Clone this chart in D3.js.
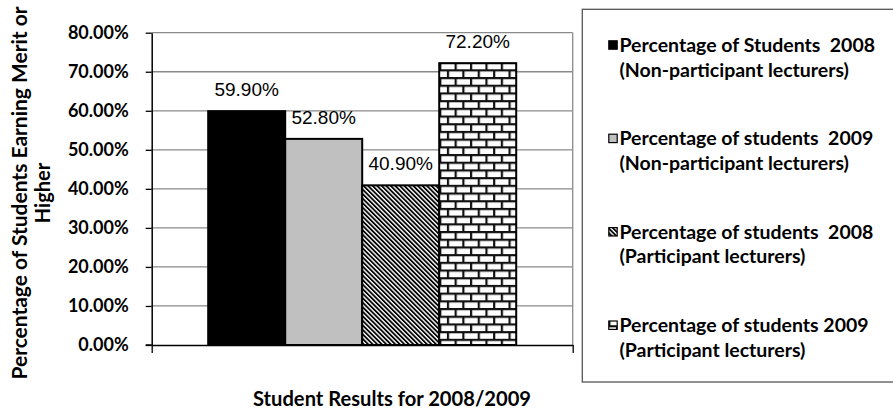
<!DOCTYPE html>
<html>
<head>
<meta charset="utf-8">
<script src="https://cdn.jsdelivr.net/npm/d3@7"></script>
<style>
  body { margin: 0; background: #fff; }
  svg { display: block; }
  text { white-space: pre; }
</style>
</head>
<body>
<script>
// ---- data ----
const category = "Student Results for 2008/2009";
const seriesLine1 = [
  "Percentage of Students  2008",
  "Percentage of students  2009",
  "Percentage of students  2008",
  "Percentage of students 2009"
];
const seriesLine2 = [
  "(Non-participant lecturers)",
  "(Non-participant lecturers)",
  "(Participant lecturers)",
  "(Participant lecturers)"
];
const values = [59.9, 52.8, 40.9, 72.2];
const yTickValues = [0, 10, 20, 30, 40, 50, 60, 70, 80];
const yTitleLines = ["Percentage of Students Earning Merit or", "Higher"];

// ---- layout / style ----
const W = 893, H = 413;
const plot = { left: 151.7, right: 572.7, top: 32.7, bottom: 345 };
const fills = ["#000000", "#c0c0c0", "url(#diag)", "url(#brick)"];
const boldFont = "Lato, 'Open Sans', sans-serif";
const labelFont = "'Liberation Sans', Arial, sans-serif";
const gridColor = "#8a8a8a";

const svg = d3.select("body").append("svg")
  .attr("width", W).attr("height", H);

svg.append("rect").attr("width", W).attr("height", H).attr("fill", "#fff");

// ---- fill patterns ----
const defs = svg.append("defs");

const diag = defs.append("pattern")
  .attr("id", "diag")
  .attr("patternUnits", "userSpaceOnUse")
  .attr("width", 3.2).attr("height", 3.2)
  .attr("patternTransform", "rotate(-45)");
diag.append("rect").attr("width", 3.2).attr("height", 3.2).attr("fill", "#fff");
diag.append("rect").attr("width", 1.8).attr("height", 3.2).attr("fill", "#000");

const bs = 15.4, bh = bs / 2, mortar = 2.2;
const brick = defs.append("pattern")
  .attr("id", "brick")
  .attr("patternUnits", "userSpaceOnUse")
  .attr("width", bs).attr("height", bs);
brick.append("rect").attr("width", bs).attr("height", bs).attr("fill", "#fff");
brick.append("rect").attr("x", 0).attr("y", 0).attr("width", bs).attr("height", mortar).attr("fill", "#111");
brick.append("rect").attr("x", 0).attr("y", bh).attr("width", bs).attr("height", mortar).attr("fill", "#111");
brick.append("rect").attr("x", 0).attr("y", 0).attr("width", mortar).attr("height", bh).attr("fill", "#111");
brick.append("rect").attr("x", bh).attr("y", bh).attr("width", mortar).attr("height", bh).attr("fill", "#111");

// ---- scales ----
const y = d3.scaleLinear().domain([0, 80]).range([plot.bottom, plot.top]);
const x0 = d3.scaleBand().domain([category])
  .range([plot.left, plot.right])
  .paddingInner(0).paddingOuter(0.1834);
const x1 = d3.scaleBand().domain(d3.range(values.length))
  .range([0, x0.bandwidth()]);

// ---- gridlines ----
svg.append("g")
  .selectAll("line")
  .data(yTickValues.filter(d => d > 0))
  .join("line")
  .attr("x1", plot.left).attr("x2", plot.right)
  .attr("y1", d => y(d)).attr("y2", d => y(d))
  .attr("stroke", gridColor).attr("stroke-width", 1.3);

// right edge of the plot area
svg.append("line")
  .attr("x1", plot.right).attr("x2", plot.right)
  .attr("y1", plot.top).attr("y2", plot.bottom)
  .attr("stroke", gridColor).attr("stroke-width", 1.3);

// ---- bars ----
svg.append("g")
  .attr("transform", `translate(${x0(category)},0)`)
  .selectAll("rect")
  .data(values)
  .join("rect")
  .attr("x", (d, i) => x1(i))
  .attr("y", d => y(d))
  .attr("width", x1.bandwidth())
  .attr("height", d => y(0) - y(d))
  .attr("fill", (d, i) => fills[i])
  .attr("stroke", "#000")
  .attr("stroke-width", 2);

// ---- value labels ----
svg.append("g")
  .attr("transform", `translate(${x0(category)},0)`)
  .selectAll("text")
  .data(values)
  .join("text")
  .attr("x", (d, i) => x1(i) + x1.bandwidth() / 2)
  .attr("y", d => y(d) - 15)
  .attr("text-anchor", "middle")
  .attr("font-family", labelFont)
  .attr("font-size", 19)
  .attr("fill", "#000")
  .text(d => d.toFixed(2) + "%");

// ---- y axis ----
const yAxis = svg.append("g")
  .attr("transform", `translate(${plot.left},0)`)
  .call(d3.axisLeft(y)
    .tickValues(yTickValues)
    .tickFormat(d => d.toFixed(2) + "%")
    .tickSize(6)
    .tickSizeOuter(0)
    .tickPadding(17));
yAxis.select(".domain").attr("stroke", "#000").attr("stroke-width", 1.5);
yAxis.selectAll(".tick line").attr("stroke", "#000").attr("stroke-width", 1.3);
yAxis.selectAll(".tick text")
  .attr("font-family", boldFont)
  .attr("font-weight", 700)
  .attr("font-size", 18)
  .attr("fill", "#000");

// ---- category axis ----
const xEdge = d3.scaleLinear().domain([0, 1]).range([plot.left, plot.right]);
const xAxis = svg.append("g")
  .attr("transform", `translate(0,${plot.bottom})`)
  .call(d3.axisBottom(xEdge).tickValues([0, 1]).tickFormat("").tickSize(8).tickSizeOuter(0));
xAxis.select(".domain").attr("stroke", "#000").attr("stroke-width", 1.5);
xAxis.selectAll(".tick line").attr("stroke", "#000").attr("stroke-width", 1.3);
svg.append("line")
  .attr("x1", plot.left - 6).attr("x2", plot.left)
  .attr("y1", plot.bottom).attr("y2", plot.bottom)
  .attr("stroke", "#000").attr("stroke-width", 1.5);

// ---- axis titles ----
function fitLength(sel, target) {
  sel.attr("textLength", target).attr("lengthAdjust", "spacingAndGlyphs");
}

svg.append("text")
  .attr("x", 253).attr("y", 406)
  .attr("font-family", boldFont).attr("font-weight", 700).attr("font-size", 20)
  .attr("fill", "#000")
  .text(category)
  .call(fitLength, 278);

const yTitleX = [27, 50];
const yTitleLen = [373, null];
yTitleLines.forEach((line, i) => {
  const t = svg.append("text")
    .attr("transform", `translate(${yTitleX[i]},193) rotate(-90)`)
    .attr("text-anchor", "middle")
    .attr("font-family", boldFont).attr("font-weight", 700).attr("font-size", 20)
    .attr("fill", "#000")
    .text(line);
  if (yTitleLen[i]) t.call(fitLength, yTitleLen[i]);
});

// ---- legend ----
svg.append("rect")
  .attr("x", 582.3).attr("y", 9.3)
  .attr("width", 330).attr("height", 372.7)
  .attr("fill", "#fff")
  .attr("stroke", "#555").attr("stroke-width", 1.3);

const legendTop = 45, legendStep = 93.4, lineGap = 24.6;
const legendTextX = 619.5, iconX = 608.8, iconSize = 8.4;
const legendFontSize = 19;

const items = svg.append("g")
  .selectAll("g")
  .data(d3.range(values.length))
  .join("g")
  .attr("transform", i => `translate(0,${legendTop + i * legendStep})`);

items.append("rect")
  .attr("x", iconX).attr("y", -iconSize / 2)
  .attr("width", iconSize).attr("height", iconSize)
  .attr("fill", i => fills[i])
  .attr("stroke", "#000").attr("stroke-width", 1.2);

const l1 = items.append("text")
  .attr("x", legendTextX).attr("y", 7)
  .attr("font-family", boldFont).attr("font-weight", 700).attr("font-size", legendFontSize)
  .attr("fill", "#000")
  .text(i => seriesLine1[i]);
const l2 = items.append("text")
  .attr("x", legendTextX).attr("y", 7 + lineGap)
  .attr("font-family", boldFont).attr("font-weight", 700).attr("font-size", legendFontSize)
  .attr("fill", "#000")
  .text(i => seriesLine2[i]);

// stretch legend text uniformly so the first line reaches the same right edge
const natural = l1.node().getComputedTextLength();
const sx = (875 - legendTextX) / natural;
l1.each(function () { d3.select(this).call(fitLength, this.getComputedTextLength() * sx); });
l2.each(function () { d3.select(this).call(fitLength, this.getComputedTextLength() * sx); });
</script>
</body>
</html>
